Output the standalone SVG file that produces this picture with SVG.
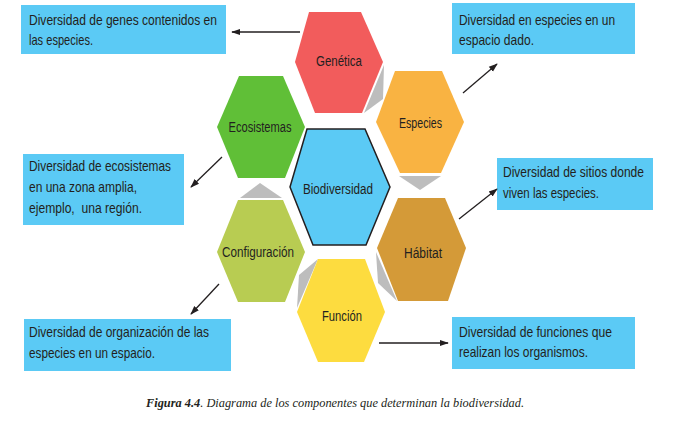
<svg xmlns="http://www.w3.org/2000/svg" width="674" height="429" viewBox="0 0 674 429">
<defs>
<style>
.box{fill:#5BCAF5;}
.bt{font-family:"Liberation Sans",Arial,sans-serif;font-size:14.5px;fill:#231F20;}
.ht{font-family:"Liberation Sans",Arial,sans-serif;font-size:14px;fill:#231F20;text-anchor:middle;}
.sh{fill:#BDBDBD;}
.ar{stroke:#231F20;stroke-width:1.3;fill:none;marker-end:url(#ah);}
.cap{font-family:"Liberation Serif","Times New Roman",serif;font-size:12.5px;font-style:italic;fill:#231F20;}
</style>
<marker id="ah" viewBox="0 0 10 10" refX="9" refY="5" markerWidth="9" markerHeight="9" markerUnits="userSpaceOnUse" orient="auto">
<path d="M0,1.5 L10,5 L0,8.5 z" fill="#231F20"/>
</marker>
</defs>
<rect width="674" height="429" fill="#ffffff"/>

<g id="shadows">
<polygon class="sh" points="384,65 383,99 364,113"/>
<polygon class="sh" points="399,176 441,176 420,190"/>
<polygon class="sh" points="240,198 282,198 260,183"/>
<polygon class="sh" points="376,252 378,283 397,301"/>
<polygon class="sh" points="318,259 299,275 297,308"/>
</g>

<g id="genetica">
<polygon points="309,12 361,12 383,62 362,113 315,113 295,62" fill="#F25C5C"/>
<text class="ht" x="339" y="66" textLength="46" lengthAdjust="spacingAndGlyphs">Genética</text>
</g>
<g id="especies">
<polygon points="395,71 442,71 464,122 441,173 400,173 376,122" fill="#F9B342"/>
<text class="ht" x="420.5" y="128" textLength="43" lengthAdjust="spacingAndGlyphs">Especies</text>
</g>
<g id="ecosistemas">
<polygon points="239,76 283,76 305,127 285,178 238,178 217,127" fill="#60BF37"/>
<text class="ht" x="260" y="132" textLength="63" lengthAdjust="spacingAndGlyphs">Ecosistemas</text>
</g>
<g id="biodiversidad">
<polygon points="307,129 365,129 390,187 366,245 313,245 290,187" fill="#5BCAF5" stroke="#231F20" stroke-width="1.5"/>
<text class="ht" x="338" y="194" textLength="70" lengthAdjust="spacingAndGlyphs">Biodiversidad</text>
</g>
<g id="configuracion">
<polygon points="238,200 283,200 305,252 285,302 238,302 217,252" fill="#B8CC52"/>
<text class="ht" x="258" y="257" textLength="72" lengthAdjust="spacingAndGlyphs">Configuración</text>
</g>
<g id="habitat">
<polygon points="398,198 445,198 466,248 448,301 398,301 377,248" fill="#D49A38"/>
<text class="ht" x="423" y="258" textLength="38" lengthAdjust="spacingAndGlyphs">Hábitat</text>
</g>
<g id="funcion">
<polygon points="318,259 365,259 385,312 364,362 318,362 297,312" fill="#FDDC3F"/>
<text class="ht" x="342" y="321" textLength="40" lengthAdjust="spacingAndGlyphs">Función</text>
</g>

<g id="box-genes">
<rect class="box" x="21" y="5" width="205" height="49"/>
<text class="bt" x="29" y="25" textLength="188" lengthAdjust="spacingAndGlyphs">Diversidad de genes contenidos en</text>
<text class="bt" x="29" y="45" textLength="64" lengthAdjust="spacingAndGlyphs">las especies.</text>
</g>
<g id="box-especies">
<rect class="box" x="452" y="3" width="183" height="51"/>
<text class="bt" x="459" y="25" textLength="156" lengthAdjust="spacingAndGlyphs">Diversidad en especies en un</text>
<text class="bt" x="459" y="45" textLength="75" lengthAdjust="spacingAndGlyphs">espacio dado.</text>
</g>
<g id="box-ecosistemas">
<rect class="box" x="23" y="154" width="161" height="71"/>
<text class="bt" x="29" y="171" textLength="142" lengthAdjust="spacingAndGlyphs">Diversidad de ecosistemas</text>
<text class="bt" x="29" y="192" textLength="108" lengthAdjust="spacingAndGlyphs">en una zona amplia,</text>
<text class="bt" x="29" y="213" textLength="113" lengthAdjust="spacingAndGlyphs" xml:space="preserve">ejemplo,  una región.</text>
</g>
<g id="box-sitios">
<rect class="box" x="497" y="158" width="156" height="52"/>
<text class="bt" x="503" y="177" textLength="141" lengthAdjust="spacingAndGlyphs">Diversidad de sitios donde</text>
<text class="bt" x="503" y="198" textLength="96" lengthAdjust="spacingAndGlyphs">viven las especies.</text>
</g>
<g id="box-organizacion">
<rect class="box" x="24" y="319" width="207" height="52"/>
<text class="bt" x="29" y="337" textLength="180" lengthAdjust="spacingAndGlyphs">Diversidad de organización de las</text>
<text class="bt" x="29" y="358" textLength="126" lengthAdjust="spacingAndGlyphs">especies en un espacio.</text>
</g>
<g id="box-funciones">
<rect class="box" x="452" y="317" width="183" height="52"/>
<text class="bt" x="459" y="337" textLength="153" lengthAdjust="spacingAndGlyphs">Diversidad de funciones que</text>
<text class="bt" x="459" y="357" textLength="129" lengthAdjust="spacingAndGlyphs">realizan los organismos.</text>
</g>

<g id="connectors">
<line class="ar" x1="300" y1="32" x2="232" y2="32"/>
<line class="ar" x1="463" y1="93" x2="497" y2="64"/>
<line class="ar" x1="222" y1="157" x2="191" y2="187"/>
<line class="ar" x1="459" y1="219" x2="497" y2="189"/>
<line class="ar" x1="219" y1="284" x2="191" y2="314"/>
<line class="ar" x1="379" y1="343" x2="448" y2="343"/>
</g>

<text class="cap" x="146" y="407" textLength="378" lengthAdjust="spacingAndGlyphs"><tspan font-weight="bold">Figura 4.4</tspan>. Diagrama de los componentes que determinan la biodiversidad.</text>
</svg>
